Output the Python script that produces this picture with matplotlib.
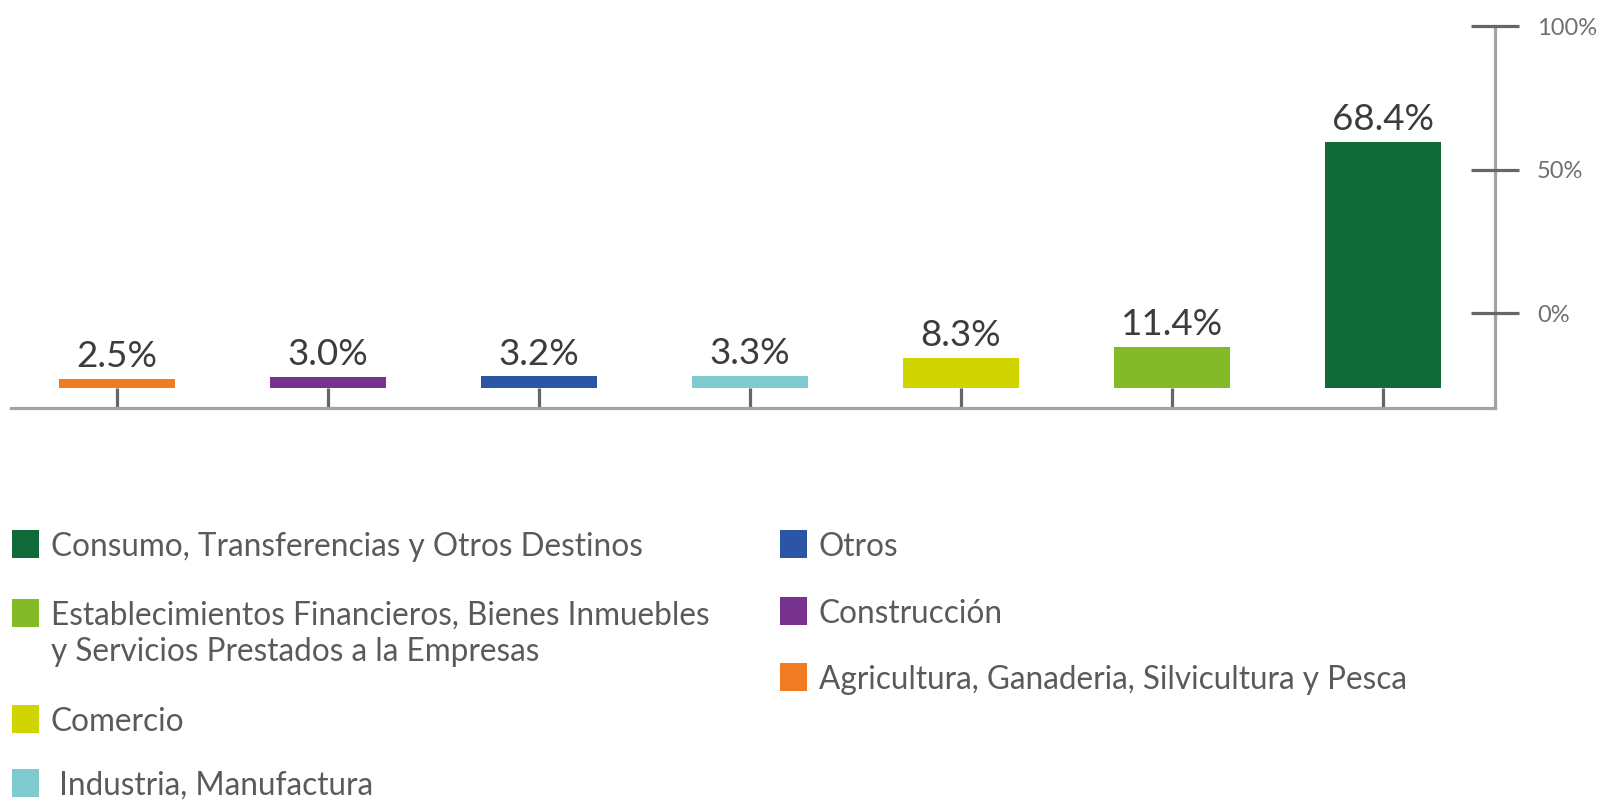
import matplotlib
matplotlib.use('Agg')
import matplotlib.pyplot as plt
from matplotlib.patches import Rectangle

plt.rcParams['font.family'] = ['Lato', 'DejaVu Sans']

# ---------------------------------------------------------------- data
categories = ['Agricultura', 'Construcción', 'Otros', 'Industria',
              'Comercio', 'Establecimientos', 'Consumo']
values = [2.5, 3.0, 3.2, 3.3, 8.3, 11.4, 68.4]
colors = ['#F07B23', '#76328C', '#2A56A5', '#7ECACE',
          '#D0D500', '#84BA27', '#106A3A']
axis_ticks = [0, 50, 100]
axis_labels = ['0%', '50%', '100%']

legend_labels = {
    'Consumo': 'Consumo, Transferencias y Otros Destinos',
    'Establecimientos': 'Establecimientos Financieros, Bienes Inmuebles\ny Servicios Prestados a la Empresas',
    'Comercio': 'Comercio',
    'Industria': ' Industria, Manufactura',
    'Otros': 'Otros',
    'Construcción': 'Construcción',
    'Agricultura': 'Agricultura, Ganaderia, Silvicultura y Pesca',
}
legend_left = ['Consumo', 'Establecimientos', 'Comercio', 'Industria']
legend_right = ['Otros', 'Construcción', 'Agricultura']

# ---------------------------------------------------------------- figure
W, H = 1602, 802
fig = plt.figure(figsize=(W / 100, H / 100), dpi=100)

ax = fig.add_axes([11 / W, 1 - 408 / H, (1495 - 11) / W, (408 - 26) / H])
x = range(len(values))
ax.bar(x, values, width=0.55, color=colors)
ax.set_xlim(-0.502, 6.531)
ax.set_ylim(-5.56, 100.67)

for s in ['top', 'left']:
    ax.spines[s].set_visible(False)
for s in ['bottom', 'right']:
    ax.spines[s].set_color('#a3a3a3')
    ax.spines[s].set_linewidth(2.3)

ax.set_xticks(list(x))
ax.set_xticklabels([])
ax.tick_params(axis='x', direction='in', length=14.4, width=2.3, color='#666666')
ax.set_yticks([])

for i, v in enumerate(values):
    ax.annotate(f'{v:.1f}%', (i, v), xytext=(0, 8.6), textcoords='offset points',
                ha='center', va='baseline', fontsize=26.5, color='#3c3c3c')

# right hand percentage axis
ax2 = ax.twinx()
ax2.set_ylim(-33.1, 100)
for s in ax2.spines.values():
    s.set_visible(False)
ax2.set_yticks(axis_ticks)
ax2.set_yticklabels(axis_labels)
ax2.tick_params(axis='y', direction='inout', length=34.6, width=2.3, color='#666666',
                pad=13, labelsize=17, labelcolor='#707070')

# ---------------------------------------------------------------- legend
def legend_entry(key, xs, yc):
    c = colors[categories.index(key)]
    fig.add_artist(Rectangle((xs / W, 1 - (yc + 14) / H), 27 / W, 28 / H,
                             transform=fig.transFigure, color=c, lw=0))
    for k, line in enumerate(legend_labels[key].split('\n')):
        fig.text((xs + 39) / W, 1 - (yc + 36 * k) / H, line, fontsize=22.7,
                 color='#5a5a5a', va='center_baseline', ha='left')

for key, yc in zip(legend_left, [544, 613, 719, 783]):
    legend_entry(key, 12, yc)
for key, yc in zip(legend_right, [544, 611, 677]):
    legend_entry(key, 780, yc)

fig.savefig('out.png', dpi=100)
